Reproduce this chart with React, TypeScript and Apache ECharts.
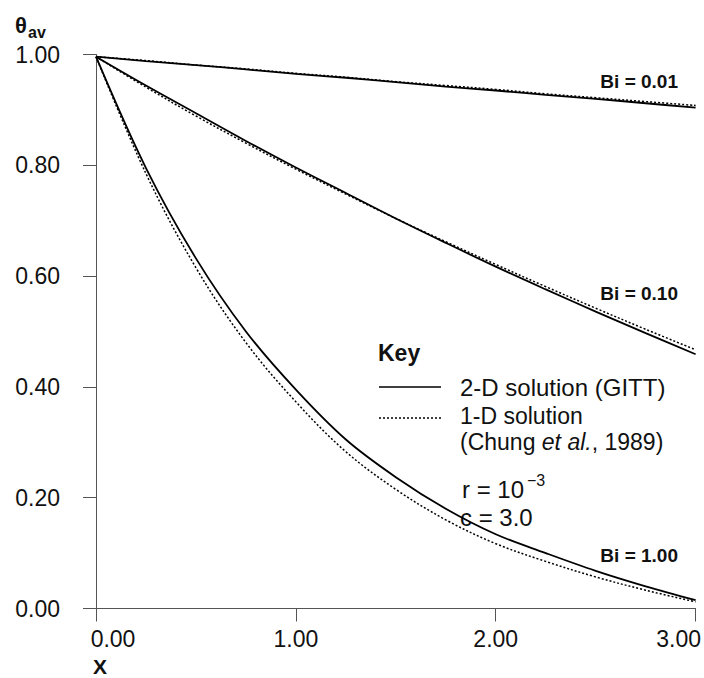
import React, { useEffect, useRef } from "react";
import * as echarts from "echarts";

// Dimensionless axial position X
const X_VALUES = [0, 0.25, 0.5, 0.75, 1.0, 1.25, 1.5, 1.75, 2.0, 2.25, 2.5, 2.75, 3.0];

// Bi = 0.01
const BI001_2D = [0.996, 0.988, 0.981, 0.973, 0.965, 0.958, 0.95, 0.942, 0.935, 0.927, 0.92, 0.912, 0.904];
const BI001_1D = [0.996, 0.989, 0.981, 0.974, 0.966, 0.959, 0.951, 0.944, 0.937, 0.929, 0.922, 0.915, 0.908];

// Bi = 0.10
const BI010_2D = [0.996, 0.944, 0.894, 0.844, 0.796, 0.75, 0.704, 0.66, 0.617, 0.576, 0.536, 0.497, 0.459];
const BI010_1D = [0.996, 0.941, 0.889, 0.84, 0.793, 0.748, 0.704, 0.662, 0.621, 0.581, 0.542, 0.504, 0.467];

// Bi = 1.00
const BI100_2D = [0.996, 0.795, 0.632, 0.5, 0.395, 0.305, 0.237, 0.18, 0.134, 0.1, 0.068, 0.04, 0.015];
const BI100_1D = [0.996, 0.785, 0.615, 0.48, 0.373, 0.283, 0.215, 0.16, 0.117, 0.085, 0.057, 0.033, 0.012];

const CURVE_LABELS = ["Bi = 0.01", "Bi = 0.10", "Bi = 1.00"];
const LEGEND_LABELS = ["2-D solution (GITT)", "1-D solution", "(Chung {i|et al.}, 1989)"];

const FONT = "'Liberation Sans', Arial, Helvetica, sans-serif";
const INK = "#111";
const AXIS = "#555";

function lineSeries(name: string, vals: number[], dotted: boolean) {
  return {
    type: "line",
    name,
    data: X_VALUES.map((x, i) => [x, vals[i]]),
    showSymbol: false,
    smooth: 0.35,
    silent: true,
    lineStyle: {
      color: "#000",
      width: dotted ? 1.5 : 1.8,
      type: dotted ? [2, 2] : "solid",
    },
  };
}

export default function App() {
  const ref = useRef<HTMLDivElement>(null);

  useEffect(() => {
    if (!ref.current) return;
    const chart = echarts.init(ref.current, null, { renderer: "svg" });
    const txt = (text: string, x: number, y: number, size: number, bold: boolean, align = "left", extra: any = {}) => ({
      type: "text",
      x,
      y,
      silent: true,
      style: {
        text,
        fontSize: size,
        fontWeight: bold ? "bold" : "normal",
        fontFamily: FONT,
        fill: INK,
        align,
        verticalAlign: "middle",
        ...extra,
      },
    });

    chart.setOption({
      animation: false,
      grid: { left: 96, right: 7, top: 54.5, bottom: 69.5, containLabel: false },
      xAxis: {
        type: "value",
        min: 0,
        max: 3,
        interval: 1,
        axisLine: { show: true, lineStyle: { color: AXIS, width: 1 } },
        axisTick: { show: true, length: 13, lineStyle: { color: AXIS, width: 1 } },
        splitLine: { show: false },
        axisLabel: {
          margin: 19,
          color: INK,
          fontSize: 23,
          fontFamily: FONT,
          formatter: (v: number) => {
            const s = v.toFixed(2);
            if (v === 0) return `{first|${s}}`;
            if (v === 3) return `{last|${s}}`;
            return `{mid|${s}}`;
          },
          rich: {
            first: { fontSize: 23, fontFamily: FONT, color: INK, padding: [0, 0, 0, 34] },
            last: { fontSize: 23, fontFamily: FONT, color: INK, padding: [0, 34, 0, 0] },
            mid: { fontSize: 23, fontFamily: FONT, color: INK },
          },
        },
      },
      yAxis: {
        type: "value",
        min: 0,
        max: 1,
        interval: 0.2,
        offset: 15,
        axisLine: { show: true, lineStyle: { color: AXIS, width: 1 } },
        axisTick: { show: true, length: 13, lineStyle: { color: AXIS, width: 1 } },
        splitLine: { show: false },
        axisLabel: {
          margin: 21,
          color: INK,
          fontSize: 23,
          fontFamily: FONT,
          formatter: (v: number) => v.toFixed(2),
        },
      },
      series: [
        lineSeries("Bi=0.01 1-D", BI001_1D, true),
        lineSeries("Bi=0.01 2-D", BI001_2D, false),
        lineSeries("Bi=0.10 1-D", BI010_1D, true),
        lineSeries("Bi=0.10 2-D", BI010_2D, false),
        lineSeries("Bi=1.00 1-D", BI100_1D, true),
        lineSeries("Bi=1.00 2-D", BI100_2D, false),
      ],
      graphic: [
        txt("θ", 15, 25, 22, true),
        txt("av", 28, 32, 16, true),
        txt("X", 93, 666, 21, true),
        txt(CURVE_LABELS[0], 678, 81, 19, true, "right"),
        txt(CURVE_LABELS[1], 678, 293, 19, true, "right"),
        txt(CURVE_LABELS[2], 678, 555, 19, true, "right"),
        txt("Key", 378, 353, 23, true),
        {
          type: "line",
          silent: true,
          shape: { x1: 379, y1: 387, x2: 441, y2: 387 },
          style: { stroke: "#000", lineWidth: 1.5 },
        },
        txt(LEGEND_LABELS[0], 460, 387.5, 24, false),
        {
          type: "line",
          silent: true,
          shape: { x1: 379, y1: 418, x2: 441, y2: 418 },
          style: { stroke: "#000", lineWidth: 1.3, lineDash: [2, 2] },
        },
        {
          type: "text",
          x: 460,
          y: 403,
          silent: true,
          style: {
            text: LEGEND_LABELS[1] + "\n" + LEGEND_LABELS[2],
            fontSize: 23,
            fontFamily: FONT,
            fill: INK,
            align: "left",
            verticalAlign: "top",
            lineHeight: 26,
            rich: { i: { fontStyle: "italic", fontSize: 23, fontFamily: FONT, fill: INK, lineHeight: 26 } },
          },
        },
        txt("r = 10", 462, 489, 24, false),
        txt("−3", 527, 480, 16, false),
        txt("c = 3.0", 460, 517, 24, false),
      ],
    });

    return () => chart.dispose();
  }, []);

  return (
    <div
      ref={ref}
      style={{ position: "fixed", left: 0, top: 0, width: 704, height: 678, background: "#fff" }}
    />
  );
}
